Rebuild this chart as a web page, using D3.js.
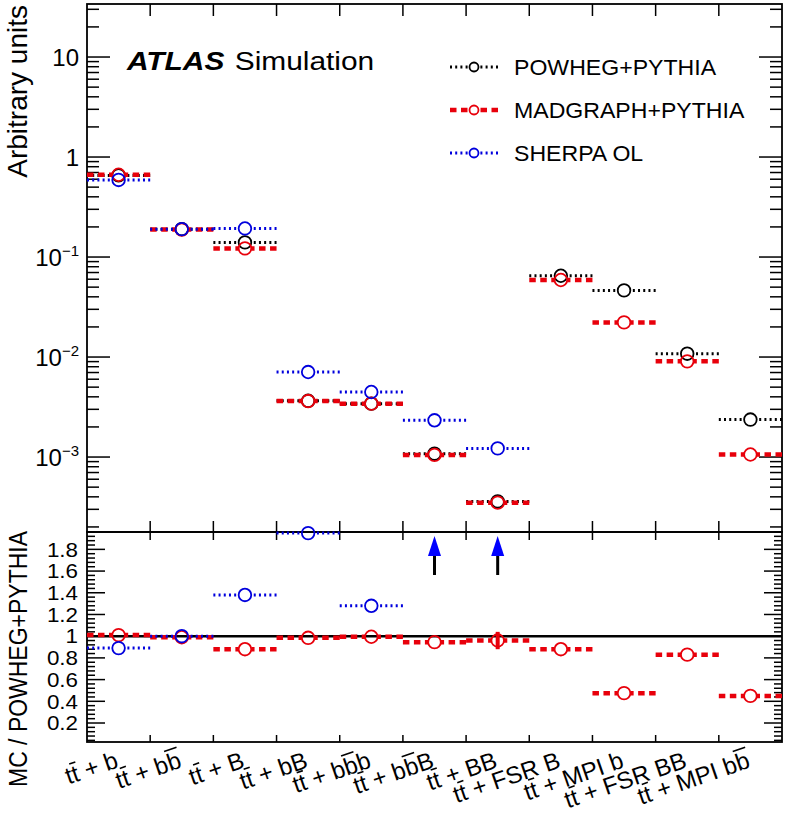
<!DOCTYPE html>
<html>
<head>
<meta charset="utf-8">
<script src="https://cdn.jsdelivr.net/npm/d3@7"></script>
<style>
  html, body { margin: 0; padding: 0; background: #fff; }
  svg text { font-family: "Liberation Sans", Arial, Helvetica, sans-serif; fill: #000; }
</style>
</head>
<body>
<div id="chart"></div>
<script>
'use strict';

// Kategorien (U+0304 = Querstrich über dem vorigen Buchstaben)
const categories = [
  'tt\u0304 + b', 'tt\u0304 + bb\u0304', 'tt\u0304 + B', 'tt\u0304 + bB',
  'tt\u0304 + bb\u0304b', 'tt\u0304 + bb\u0304B', 'tt\u0304 + BB',
  'tt\u0304 + FSR B', 'tt\u0304 + MPI b', 'tt\u0304 + FSR BB', 'tt\u0304 + MPI bb\u0304'
];

const powheg   = [0.655, 0.19, 0.140, 3.65e-3, 3.42e-3, 1.08e-3, 3.6e-4, 0.065, 0.0464, 0.0108, 2.37e-3];
const madgraph = [0.665, 0.188, 0.122, 3.63e-3, 3.42e-3, 1.05e-3, 3.5e-4, 0.0589, 0.0222, 9.05e-3, 1.06e-3];
const sherpa   = [0.59, 0.19, 0.193, 7.08e-3, 4.47e-3, 2.33e-3, 1.22e-3, null, null, null, null];

// Verhältnis zu POWHEG+PYTHIA
const ratioMadgraph    = [1.01, 0.99, 0.88, 0.985, 0.995, 0.945, 0.96, 0.88, 0.475, 0.83, 0.45];
const ratioMadgraphErr = [0, 0, 0, 0, 0, 0, 0.08, 0, 0, 0, 0];
const ratioSherpa      = [0.89, 1.0, 1.38, 1.95, 1.28, 2.2, 3.4, null, null, null, null];

const logTickLabels = [[10, '10', null], [1, '1', null], [0.1, '10', '\u22121'], [0.01, '10', '\u22122'], [0.001, '10', '\u22123']];
const ratioTickLabels = ['0.2', '0.4', '0.6', '0.8', '1', '1.2', '1.4', '1.6', '1.8'];

(function () {
  const W = 786, H = 813;
  const xL = 87, xR = 782, yTop = 4, yMid = 532, yBot = 742;

  const svg = d3.select('#chart').append('svg')
    .attr('width', W).attr('height', H)
    .attr('viewBox', `0 0 ${W} ${H}`);

  const x = d3.scaleBand().domain(d3.range(categories.length)).range([xL, xR]).padding(0);
  const y = d3.scaleLog().domain([1.78e-4, 33.9]).range([yMid, yTop]);
  const yr = d3.scaleLinear().domain([0.025, 1.96]).range([yBot, yMid]);

  const STYLES = {
    powheg:   { color: '#000', width: 3, dash: '2,3.2' },
    madgraph: { color: '#e8000b', width: 4.5, dash: '6.5,4.5' },
    sherpa:   { color: '#0000dd', width: 3, dash: '2,3.2' }
  };
  const R = 6.3;

  // ------------------------------------------
  // Achsen-Ticks
  // ------------------------------------------
  const gAxes = svg.append('g');

  function tick(x1, y1, x2, y2) {
    gAxes.append('line').attr('x1', x1).attr('y1', y1).attr('x2', x2).attr('y2', y2)
      .attr('stroke', '#000').attr('stroke-width', 1.5);
  }

  // log-Ticks oben
  for (let e = -4; e <= 1; e++) {
    for (let m = 1; m <= 9; m++) {
      const v = m * Math.pow(10, e);
      const [lo, hi] = y.domain();
      if (v < lo || v > hi) continue;
      const len = m === 1 ? 23 : 12;
      const yy = y(v);
      tick(xL, yy, xL + len, yy);
      tick(xR, yy, xR - len, yy);
    }
  }

  // Verhältnis-Ticks
  for (let k = 1; k <= 49; k++) {
    const v = k * 0.04;
    if (v > yr.domain()[1]) break;
    const major = k % 5 === 0;
    const len = major ? 18 : 8;
    tick(xL, yr(v), xL + len, yr(v));
    tick(xR, yr(v), xR - len, yr(v));
  }

  // x-Ticks an den Bin-Grenzen
  for (let i = 1; i < categories.length; i++) {
    const xx = x(i);
    tick(xx, yTop, xx, yTop + 12);
    tick(xx, yMid, xx, yMid - 11);
    tick(xx, yMid, xx, yMid + 8);
    tick(xx, yBot, xx, yBot - 7);
  }

  // Rahmen
  svg.append('rect').attr('x', xL).attr('y', yTop).attr('width', xR - xL).attr('height', yMid - yTop)
    .attr('fill', 'none').attr('stroke', '#000').attr('stroke-width', 1.8);
  svg.append('rect').attr('x', xL).attr('y', yMid).attr('width', xR - xL).attr('height', yBot - yMid)
    .attr('fill', 'none').attr('stroke', '#000').attr('stroke-width', 1.8);

  // Tick-Beschriftungen
  logTickLabels.forEach(([v, base, exp]) => {
    const t = svg.append('text').attr('x', 79).attr('y', y(v) + 8.5)
      .attr('text-anchor', 'end').attr('font-size', 24);
    t.append('tspan').text(base);
    if (exp) t.append('tspan').attr('dy', -10).attr('font-size', 15).text(exp);
  });

  // Verhältnis-Beschriftung: etwas gestreckt, damit sie sich nicht überlappt
  ratioTickLabels.forEach(s => {
    svg.append('text').attr('transform', `translate(78,${yr(+s) + 7.3}) scale(1.12,1)`)
      .attr('text-anchor', 'end').attr('font-size', 20).text(s);
  });

  // Achsentitel
  svg.append('text').attr('transform', 'translate(27,5) rotate(-90)')
    .attr('text-anchor', 'end').attr('font-size', 28).text('Arbitrary units');
  svg.append('text').attr('transform', 'translate(27,531) scale(1.1,1) rotate(-90)')
    .attr('text-anchor', 'end').attr('font-size', 23).text('MC / POWHEG+PYTHIA');

  // Kategorien-Beschriftung (gedreht, rechtsbündig an Bin-Mitte),
  // Querstriche werden als eigene Linien über den Buchstaben gezogen
  const LFS = 24;
  categories.forEach((c, i) => {
    const cx = x(i) + x.bandwidth() / 2;
    const g = svg.append('g').attr('transform', `translate(${cx + 1},767) rotate(-19)`);
    const chars = Array.from(c);
    let plain = '';
    const bars = [];
    chars.forEach(ch => {
      if (ch === '\u0304') bars.push(plain.length - 1);
      else plain += ch;
    });
    const t = g.append('text').attr('text-anchor', 'end').attr('font-size', LFS).text(plain);
    const node = t.node();
    bars.forEach(k => {
      const s = node.getStartPositionOfChar(k);
      const e = node.getEndPositionOfChar(k);
      const h = plain[k] === 't' ? 0.8 : 0.86;
      g.append('line')
        .attr('x1', s.x + 0.03 * LFS).attr('x2', e.x + 0.02 * LFS)
        .attr('y1', -h * LFS).attr('y2', -h * LFS)
        .attr('stroke', '#000').attr('stroke-width', 1.6);
    });
  });

  // ------------------------------------------
  // Datenpunkte
  // ------------------------------------------
  function drawMarker(g, cx, cy, st) {
    const x0 = cx - x.bandwidth() / 2, x1 = cx + x.bandwidth() / 2;
    g.append('line').attr('x1', x0).attr('x2', cx - R).attr('y1', cy).attr('y2', cy)
      .attr('stroke', st.color).attr('stroke-width', st.width).attr('stroke-dasharray', st.dash);
    g.append('line').attr('x1', x1).attr('x2', cx + R).attr('y1', cy).attr('y2', cy)
      .attr('stroke', st.color).attr('stroke-width', st.width).attr('stroke-dasharray', st.dash);
    g.append('circle').attr('cx', cx).attr('cy', cy).attr('r', R)
      .attr('fill', 'none').attr('stroke', st.color).attr('stroke-width', 1.8);
  }

  const gData = svg.append('g');
  [[powheg, STYLES.powheg], [madgraph, STYLES.madgraph], [sherpa, STYLES.sherpa]].forEach(([vals, st]) => {
    vals.forEach((v, i) => {
      if (v == null) return;
      drawMarker(gData, x(i) + x.bandwidth() / 2, y(v), st);
    });
  });

  // Verhältnis-Panel
  const gRatio = svg.append('g');
  gRatio.append('line').attr('x1', xL).attr('x2', xR).attr('y1', yr(1)).attr('y2', yr(1))
    .attr('stroke', '#000').attr('stroke-width', 2.5);

  ratioMadgraph.forEach((v, i) => {
    const cx = x(i) + x.bandwidth() / 2;
    const err = ratioMadgraphErr[i];
    if (err > 0) {
      gRatio.append('line').attr('x1', cx).attr('x2', cx).attr('y1', yr(v + err)).attr('y2', yr(v - err))
        .attr('stroke', STYLES.madgraph.color).attr('stroke-width', 4);
    }
    drawMarker(gRatio, cx, yr(v), STYLES.madgraph);
  });

  ratioSherpa.forEach((v, i) => {
    if (v == null) return;
    const cx = x(i) + x.bandwidth() / 2;
    if (v > yr.domain()[1]) {
      // Pfeil: Wert außerhalb des Bereichs
      gRatio.append('line').attr('x1', cx).attr('x2', cx).attr('y1', 575).attr('y2', 555)
        .attr('stroke', '#000').attr('stroke-width', 3);
      gRatio.append('path').attr('d', `M${cx - 6.5},556 L${cx + 6.5},556 L${cx},536 Z`)
        .attr('fill', '#0000ff');
      return;
    }
    drawMarker(gRatio, cx, yr(v), STYLES.sherpa);
  });

  // ------------------------------------------
  // Titel & Legende
  // ------------------------------------------
  const title = svg.append('text').attr('transform', 'translate(127,70) scale(1.15,1)').attr('font-size', 26);
  title.append('tspan').attr('font-weight', 'bold').attr('font-style', 'italic').text('ATLAS');
  title.append('tspan').attr('dx', 9).text('Simulation');

  const legendItems = [
    ['POWHEG+PYTHIA', STYLES.powheg],
    ['MADGRAPH+PYTHIA', STYLES.madgraph],
    ['SHERPA OL', STYLES.sherpa]
  ];
  legendItems.forEach(([label, st], i) => {
    const by = 75 + i * 43;
    const g = svg.append('g');
    const cy = by - 8;
    g.append('line').attr('x1', 450).attr('x2', 474 - 4.5).attr('y1', cy).attr('y2', cy)
      .attr('stroke', st.color).attr('stroke-width', st.width).attr('stroke-dasharray', st.dash);
    g.append('line').attr('x1', 498).attr('x2', 474 + 4.5).attr('y1', cy).attr('y2', cy)
      .attr('stroke', st.color).attr('stroke-width', st.width).attr('stroke-dasharray', st.dash);
    g.append('circle').attr('cx', 474).attr('cy', cy).attr('r', 4.5)
      .attr('fill', 'none').attr('stroke', st.color).attr('stroke-width', 1.8);
    svg.append('text').attr('transform', `translate(514,${by}) scale(1.05,1)`)
      .attr('font-size', 22).text(label);
  });
})();
</script>
</body>
</html>
